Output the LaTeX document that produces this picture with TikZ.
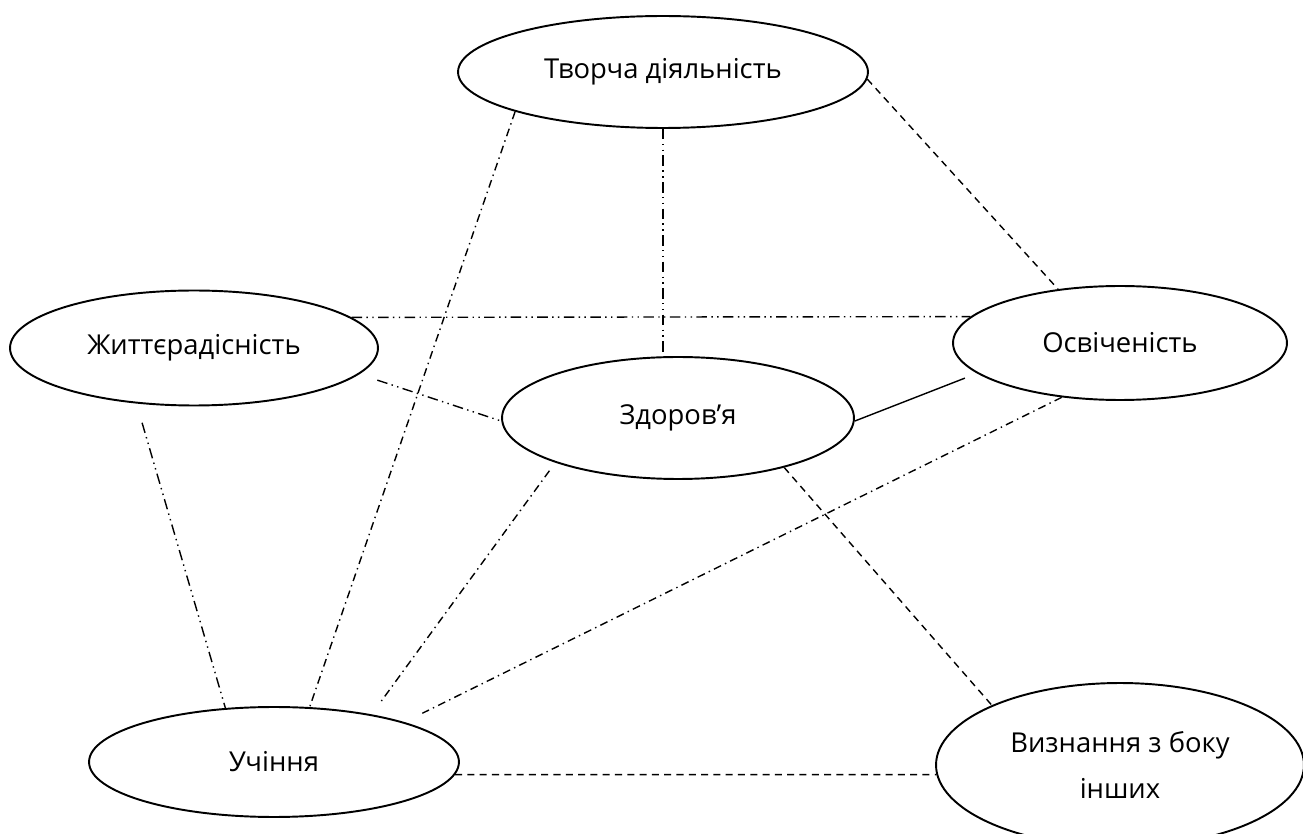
\documentclass[tikz,border=0pt]{standalone}
\usepackage{fontspec}
\setmainfont{Open Sans}
\usetikzlibrary{shapes.geometric}

\begin{document}
\begin{tikzpicture}[x=0.02cm,y=-0.02cm,
  oval/.style={draw,ellipse,line width=1.1pt,inner sep=0pt,font=\fontsize{15.6}{19}\selectfont},
  dashline/.style={line width=0.8pt,dash pattern=on 4pt off 3pt},
  dotdash/.style={line width=0.8pt,dash pattern=on 4.5pt off 2.5pt on 0.8pt off 2.5pt},
  dotdotdash/.style={line width=0.8pt,dash pattern=on 6pt off 2.5pt on 0.8pt off 2.5pt on 0.8pt off 2.5pt}]
\useasboundingbox (0,0) rectangle (1303,834);
\node[oval,minimum width=8.2cm,minimum height=2.24cm] (tvor) at (663,72) {Творча діяльність};
\node[oval,minimum width=7.36cm,minimum height=2.3cm] (zhyt) at (194,348) {Життєрадісність};
\node[oval,minimum width=7.04cm,minimum height=2.44cm] (zdor) at (678,418) {Здоров’я};
\node[oval,minimum width=6.68cm,minimum height=2.28cm] (osv) at (1120,343) {Освіченість};
\node[oval,minimum width=7.4cm,minimum height=2.2cm] (uch) at (274,762) {Учіння};
\node[oval,minimum width=7.36cm,minimum height=3.28cm,align=center,
  font=\fontsize{15.6}{26.6}\selectfont] (vyzn) at (1120,765) {Визнання з боку\\інших};
% lines
\draw[dotdotdash] (zhyt.11) -- (osv.170);
\draw[dotdotdash,shorten <=0.38cm] (zhyt.-9) -- (zdor.181);
\draw[dotdotdash,shorten <=0.4cm] (zhyt.-136) -- (uch.132);
\draw[dotdotdash] (tvor.south) -- (tvor.south |- zdor.north);
\draw[dotdash] (tvor.195) -- (uch.57);
\draw[dashline] (tvor.-2) -- (osv.139);
\draw[line width=0.8pt,shorten >=0.26cm] (zdor.-1) -- (osv.192);
\draw[dotdash,shorten <=0.2cm,shorten >=0.25cm] (zdor.200) -- (uch.26);
\draw[dotdash,shorten >=0.4cm] (osv.223) -- (uch.17);
\draw[dashline] (zdor.-25) -- (vyzn.155);
\draw[dashline] (uch.-4) -- (vyzn.183);
\end{tikzpicture}
\end{document}
